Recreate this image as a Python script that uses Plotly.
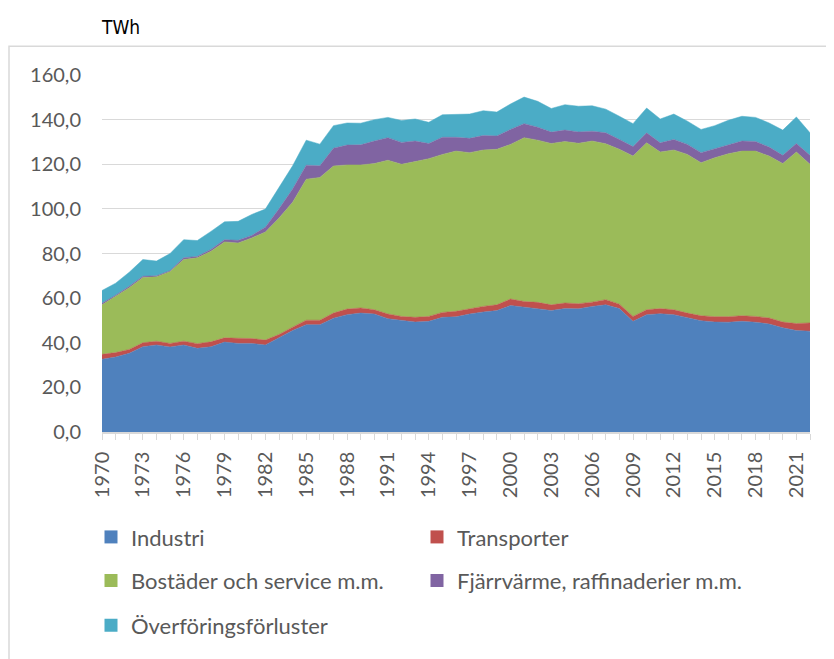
import plotly.graph_objects as go

years = list(range(1970, 2023))

industri = [32.6, 33.6, 35.3, 38.2, 39.0, 38.1, 39.0, 37.5, 38.2, 40.3,
            39.7, 39.7, 39.0, 42.2, 45.5, 48.1, 48.1, 51.0, 52.6, 53.3,
            52.9, 50.8, 49.9, 49.3, 49.6, 51.4, 51.6, 52.9, 53.8, 54.4,
            56.7, 55.9, 55.3, 54.5, 55.3, 55.2, 56.3, 57.0, 55.3, 49.6,
            52.6, 53.0, 52.6, 51.1, 49.9, 49.3, 49.2, 49.6, 49.2, 48.4,
            46.7, 45.5, 45.2]
transporter = [2.2, 2.0, 1.7, 1.8, 1.7, 1.6, 1.7, 2.1, 2.2, 1.9,
               2.3, 2.2, 2.2, 1.5, 1.5, 2.0, 2.0, 2.3, 2.5, 2.3,
               1.9, 2.1, 1.9, 2.1, 2.2, 2.2, 2.5, 2.4, 2.5, 2.6,
               2.9, 2.6, 2.8, 2.5, 2.5, 2.3, 1.9, 2.3, 2.0, 2.2,
               2.2, 2.3, 2.2, 2.2, 2.2, 2.4, 2.5, 2.5, 2.6, 2.7,
               2.6, 3.1, 3.7]
bostader = [22.2, 25.1, 27.7, 29.2, 28.9, 32.2, 36.6, 38.5, 40.6, 43.0,
            42.7, 45.1, 48.4, 52.2, 56.0, 63.2, 64.0, 65.9, 64.6, 64.1,
            65.5, 68.9, 68.2, 69.8, 70.7, 70.8, 71.8, 69.9, 70.1, 69.7,
            69.3, 73.4, 72.7, 72.3, 72.4, 71.9, 72.2, 69.9, 69.4, 71.9,
            74.8, 70.2, 71.6, 71.1, 68.6, 71.2, 73.0, 73.8, 74.1, 72.6,
            71.0, 76.9, 71.1]
fjarrvarme = [0.7, 0.6, 0.6, 0.6, 0.4, 0.4, 0.8, 0.6, 0.8, 1.0,
              1.2, 1.1, 2.2, 4.1, 5.9, 6.3, 5.2, 8.0, 8.9, 9.0,
              10.1, 10.1, 9.8, 9.2, 6.8, 7.7, 6.2, 6.4, 6.5, 6.0,
              6.7, 6.3, 5.8, 5.1, 5.1, 5.1, 4.4, 4.9, 4.4, 4.2,
              4.5, 4.1, 4.7, 4.5, 4.5, 4.1, 4.2, 4.5, 4.3, 4.0,
              3.7, 3.8, 4.0]
forluster = [5.7, 5.4, 6.3, 7.5, 6.6, 7.7, 8.1, 7.1, 8.1, 8.0,
             8.5, 9.4, 8.1, 9.6, 10.4, 11.2, 9.7, 10.1, 9.9, 9.7,
             9.6, 9.1, 9.8, 9.9, 9.5, 10.1, 10.4, 10.9, 11.1, 10.7,
             11.4, 11.9, 11.6, 10.6, 11.4, 11.5, 11.4, 10.6, 10.4, 10.3,
             11.1, 10.7, 11.4, 10.4, 10.4, 10.3, 10.8, 11.1, 10.8, 10.8,
             11.3, 11.9, 10.1]

series_names = ["Industri", "Transporter", "Bostäder och service m.m.",
                "Fjärrvärme, raffinaderier m.m.", "Överföringsförluster"]
series_values = [industri, transporter, bostader, fjarrvarme, forluster]
colors = ["#4F81BD", "#C0504D", "#9BBB59", "#8064A2", "#4BACC6"]
legend_ids = ["legend", "legend", "legend2", "legend2", "legend3"]

tick_years = list(range(1970, 2023, 3))

# page offset (body margin) compensation
OFF = 8
W, H = 834 - OFF, 659 - OFF
PL, PR, PT, PB = 102, 810, 75, 435   # plot area in page pixels
L, R, T, B = PL - OFF, W - (PR - OFF), PT - OFF, H - (PB - OFF)
pw, ph = W - L - R, H - T - B

def px_x(x):
    return (x - OFF - L) / pw

def px_y(y):
    return (H - B - (y - OFF)) / ph

fig = go.Figure()
for name, vals, col in zip(series_names, series_values, colors):
    fig.add_trace(go.Scatter(
        x=years, y=vals, name=name, mode="lines", stackgroup="one",
        line=dict(width=0.5, color=col), fillcolor=col, showlegend=False,
        hoverinfo="x+y+name"))

for name, col, lg in zip(series_names, colors, legend_ids):
    fig.add_trace(go.Scatter(
        x=[None], y=[None], name=name, mode="markers",
        marker=dict(symbol="square", size=13, color=col),
        showlegend=True, legend=lg))

font_family = "Lato, Carlito, Calibri, sans-serif"
leg_common = dict(orientation="h", traceorder="normal",
                  font=dict(family=font_family, size=22, color="#595959"),
                  entrywidth=281, entrywidthmode="pixels", itemwidth=30,
                  bgcolor="rgba(0,0,0,0)", xanchor="left", yanchor="middle",
                  x=px_x(91))

fig.update_layout(
    width=W, height=H,
    margin=dict(l=L, r=R, t=T, b=B, pad=0),
    paper_bgcolor="white", plot_bgcolor="white",
    separators=", ",
    legend=dict(**leg_common, y=px_y(541)),
    legend2=dict(**leg_common, y=px_y(585)),
    legend3=dict(**leg_common, y=px_y(630)),
    xaxis=dict(
        range=[1970, 2022], tickmode="array", tickvals=tick_years,
        ticktext=[str(y) for y in tick_years], tickangle=-90,
        ticks="outside", ticklen=6, tickcolor="#D9D9D9", tickwidth=1,
        minor=dict(tickmode="linear", tick0=1970, dtick=1, ticks="outside",
                   ticklen=6, tickcolor="#D9D9D9", tickwidth=1, showgrid=False),
        showline=True, linecolor="#D9D9D9", linewidth=1.5,
        showgrid=False, zeroline=False,
        tickfont=dict(family=font_family, size=20, color="#595959"),
        ticklabelstandoff=4),
    yaxis=dict(
        range=[0, 160], dtick=20, tick0=0, tickformat=".1f",
        showgrid=True, gridcolor="#D9D9D9", gridwidth=1.3,
        zeroline=False, showline=False, ticks="",
        tickfont=dict(family=font_family, size=20, color="#595959"),
        ticklabelstandoff=20),
    annotations=[dict(
        text="TWh", xref="paper", yref="paper", x=px_x(99), y=px_y(27),
        xanchor="left", yanchor="middle", showarrow=False,
        font=dict(family="DejaVu Sans Condensed, Liberation Sans Narrow, Arial Narrow, Lato, sans-serif",
                  size=19, color="#000000"))],
    shapes=[dict(
        type="rect", xref="paper", yref="paper",
        x0=px_x(9), x1=px_x(845), y0=px_y(670), y1=px_y(46),
        line=dict(color="#D9D9D9", width=1.5), fillcolor="rgba(0,0,0,0)",
        layer="below")],
)

fig.write_html("out.html")
